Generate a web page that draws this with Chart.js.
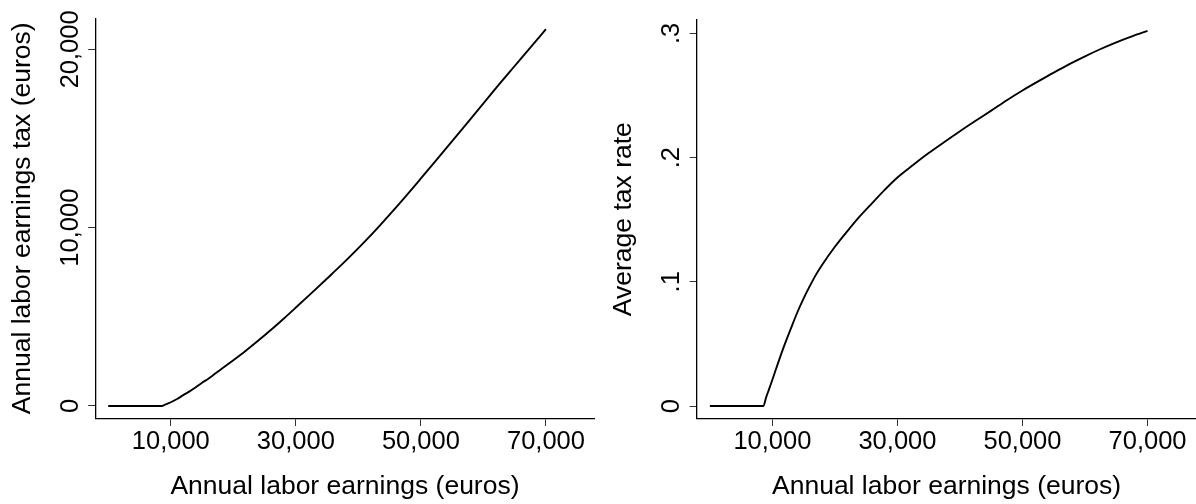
<!DOCTYPE html>
<html>
<head>
<meta charset="utf-8">
<script src="https://cdn.jsdelivr.net/npm/chart.js@4.4.1/dist/chart.umd.min.js"></script>
<style>
  html, body { margin: 0; padding: 0; background: #fff; }
  .panel { position: absolute; top: 0; height: 504px; }
  #left { left: 0; width: 600px; }
  #right { left: 602px; width: 594px; }
</style>
</head>
<body>
<div class="panel" id="left"><canvas id="taxChart"></canvas></div>
<div class="panel" id="right"><canvas id="rateChart"></canvas></div>
<script>
// annual labor earnings (euros)
const earnings = [0, 8560, 9000, 9500, 10000, 11000, 12000, 13000, 14000, 15000, 16000, 17000,
  18000, 20000, 22000, 24000, 26000, 28000, 30000, 32500, 35000, 37500, 40000, 42500,
  45000, 47500, 50000, 52500, 55000, 57500, 60000, 62500, 65000, 67500, 70000];

// annual labor earnings tax (euros)
const laborTax = [0, 0, 62, 135, 210, 395, 610, 820, 1050, 1300, 1530, 1790,
  2050, 2565, 3100, 3670, 4260, 4880, 5520, 6330, 7150, 7980, 8850, 9760,
  10730, 11730, 12760, 13800, 14850, 15905, 16965, 18030, 19065, 20100, 21130];

// average tax rate
const avgTaxRate = [0, 0, 0.0070, 0.0140, 0.0212, 0.0360, 0.0500, 0.0630, 0.0755, 0.0867, 0.0967, 0.1060,
  0.1140, 0.1282, 0.1408, 0.1528, 0.1636, 0.1742, 0.1840, 0.1940, 0.2036, 0.2125, 0.2212, 0.2296,
  0.2378, 0.2462, 0.2540, 0.2613, 0.2684, 0.2752, 0.2815, 0.2874, 0.2928, 0.2976, 0.3020];

const xTicks = [10000, 30000, 50000, 70000];
const xTickLabels = ['10,000', '30,000', '50,000', '70,000'];
const taxTicks = [0, 10000, 20000];
const taxTickLabels = ['0', '10,000', '20,000'];
const rateTicks = [0, 0.1, 0.2, 0.3];
const rateTickLabels = ['0', '.1', '.2', '.3'];

const FONT = "'Liberation Sans', Arial, Helvetica, sans-serif";

function makeChart(id, values, yTicks, yLabels, yMin, yMax, yTitle, opt) {
  const ctx = document.getElementById(id).getContext('2d');
  return new Chart(ctx, {
    type: 'line',
    data: {
      datasets: [{
        data: earnings.map((e, i) => ({ x: e, y: values[i] })),
        borderColor: '#000',
        borderWidth: 1.9,
        pointRadius: 0,
        cubicInterpolationMode: 'monotone',
        fill: false
      }]
    },
    options: {
      responsive: true,
      maintainAspectRatio: false,
      animation: false,
      events: [],
      layout: { padding: { top: 18.3, right: opt.rightPad, bottom: 0, left: 0 } },
      plugins: { legend: { display: false }, tooltip: { enabled: false } },
      scales: {
        x: {
          type: 'linear',
          min: -2040,
          max: 77750,
          afterBuildTicks: s => { s.ticks = xTicks.map(v => ({ value: v })); },
          afterFit: s => { s.height = 85.7; },
          border: { display: true, color: '#000', width: 1.3 },
          grid: { display: true, drawOnChartArea: false, drawTicks: true, tickLength: 7.7, tickColor: '#333', tickWidth: 1 },
          ticks: {
            autoSkip: false,
            maxRotation: 0,
            padding: 3.5,
            color: '#000',
            font: { family: FONT, size: 25.5, lineHeight: 1 },
            callback: (v, i) => xTickLabels[i]
          },
          title: {
            display: true,
            text: 'Annual labor earnings (euros)',
            color: '#000',
            font: { family: FONT, size: 26.5, lineHeight: 1 },
            padding: { top: 0, bottom: 4 }
          }
        },
        y: {
          type: 'linear',
          min: yMin,
          max: yMax,
          afterBuildTicks: s => { s.ticks = yTicks.map(v => ({ value: v })); },
          afterFit: s => { s.width = opt.yWidth; },
          border: { display: true, color: '#000', width: 1.3 },
          grid: { display: true, drawOnChartArea: false, drawTicks: true, tickLength: 7.4, tickColor: '#333', tickWidth: 1 },
          ticks: {
            autoSkip: false,
            minRotation: 90,
            maxRotation: 90,
            crossAlign: 'center',
            padding: opt.tickPad,
            color: '#000',
            font: { family: FONT, size: 25.5, lineHeight: 1 },
            callback: (v, i) => yLabels[i]
          },
          title: {
            display: true,
            text: yTitle,
            color: '#000',
            font: { family: FONT, size: 26.5, lineHeight: 1 },
            padding: { top: opt.titlePad, bottom: 0 }
          }
        }
      }
    }
  });
}

makeChart('taxChart', laborTax, taxTicks, taxTickLabels, -690, 21740,
  'Annual labor earnings tax (euros)', { rightPad: 5.6, yWidth: 95.5, tickPad: -22.1, titlePad: 9 });

makeChart('rateChart', avgTaxRate, rateTicks, rateTickLabels, -0.00986, 0.3107,
  'Average tax rate', { rightPad: 0, yWidth: 95.1, tickPad: 7.3, titlePad: 8 });
</script>
</body>
</html>
